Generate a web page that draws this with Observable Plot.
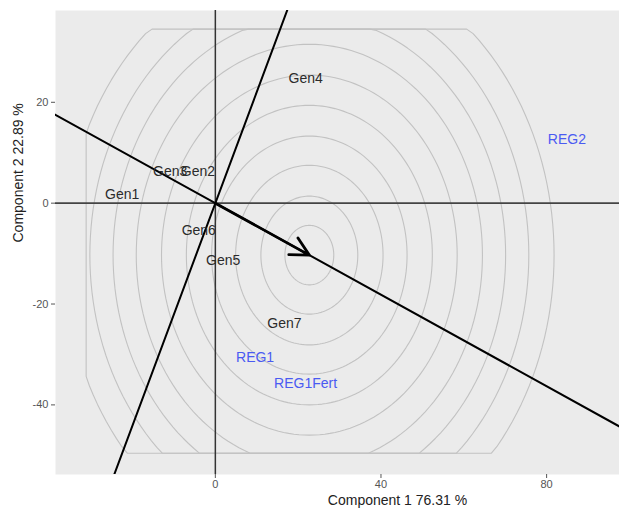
<!DOCTYPE html>
<html>
<head>
<meta charset="utf-8">
<script src="https://cdn.jsdelivr.net/npm/d3@7"></script>
<script src="https://cdn.jsdelivr.net/npm/@observablehq/plot@0.6"></script>
<style>
  body { margin: 0; background: white; }
</style>
</head>
<body>
<div id="chart"></div>
<script>
// Genotype labels
const genNames = ["Gen1", "Gen2", "Gen3", "Gen4", "Gen5", "Gen6", "Gen7"];
const genX = [-22.5, -4.2, -10.9, 21.8, 1.9, -4.0, 16.7];
const genY = [1.7, 6.3, 6.3, 24.7, -11.4, -5.4, -23.8];

// Environment labels
const envNames = ["REG1", "REG1Fert", "REG2"];
const envX = [9.6, 21.8, 84.9];
const envY = [-30.6, -35.7, 12.6];

// Average environment (arrow end, circle centre)
const avgEnv = [22.7, -10.3];

// Concentric circle radii
const radii = [5.9, 11.7, 17.8, 23.6, 29.7, 35.7, 41.8, 47.4, 53.0, 59.1];
// Clamp limits of circles [xmin, xmax, ymin, ymax]
const clipBox = [-31.2, 200, -49.6, 34.5];

// Axis settings
const xDomain = [-38.6, 97.6];
const yDomain = [-53.8, 38.2];
const xTicks = [0, 40, 80];
const yTicks = [-40, -20, 0, 20];
const xTitle = "Component 1 76.31 %";
const yTitle = "Component 2 22.89 %";

const gens = genNames.map((n, i) => ({name: n, x: genX[i], y: genY[i]}));
const envs = envNames.map((n, i) => ({name: n, x: envX[i], y: envY[i]}));

const [cx, cy] = avgEnv;
const circlePts = [];
radii.forEach((r, k) => {
  for (let a = 0; a <= 360; a += 2) {
    const t = a * Math.PI / 180;
    let px = cx + r * Math.cos(t), py = cy + r * Math.sin(t);
    px = Math.min(Math.max(px, clipBox[0]), clipBox[1]);
    py = Math.min(Math.max(py, clipBox[2]), clipBox[3]);
    circlePts.push({k, x: px, y: py});
  }
});

const len = Math.hypot(cx, cy);
const ux = cx / len, uy = cy / len;
const aeaLine = [-300, 300].map(t => ({x: t * ux, y: t * uy}));
const perpLine = [-300, 300].map(t => ({x: -t * uy, y: t * ux}));

const chart = Plot.plot({
  width: 619,
  height: 508,
  marginLeft: 55,
  marginRight: 0,
  marginTop: 10,
  marginBottom: 34,
  x: {domain: xDomain},
  y: {domain: yDomain},
  style: {fontFamily: "'Liberation Sans', Arial, Helvetica, sans-serif", background: "white"},
  marks: [
    Plot.frame({fill: "#ebebeb"}),
    Plot.line(circlePts, {x: "x", y: "y", z: "k", stroke: "#c2c2c2", strokeWidth: 1.1, clip: true}),
    Plot.ruleX([0], {stroke: "#333", strokeWidth: 1.5}),
    Plot.ruleY([0], {stroke: "#444", strokeWidth: 1.6}),
    Plot.line(aeaLine, {x: "x", y: "y", stroke: "#000", strokeWidth: 2, clip: true}),
    Plot.line(perpLine, {x: "x", y: "y", stroke: "#000", strokeWidth: 2, clip: true}),
    Plot.arrow([{x1: 0, y1: 0, x2: cx, y2: cy}], {x1: "x1", y1: "y1", x2: "x2", y2: "y2", stroke: "#000", strokeWidth: 2.8, headLength: 11, headAngle: 55}),
    Plot.text(gens, {x: "x", y: "y", text: "name", fill: "#2b2b2b", fontSize: 14}),
    Plot.text(envs, {x: "x", y: "y", text: "name", fill: "#4a5af2", fontSize: 14}),
    Plot.axisX({ticks: xTicks, tickSize: 4, tickPadding: 2, fontSize: 11, color: "#555", label: null, tickFormat: d => String(d)}),
    Plot.axisY({ticks: yTicks, tickSize: 4, tickPadding: 3, fontSize: 11, color: "#555", label: null, tickFormat: d => String(d)}),
    Plot.text([xTitle], {frameAnchor: "bottom", dx: 60, dy: 26, lineAnchor: "middle", fontSize: 14, fill: "#222"}),
    Plot.text([yTitle], {frameAnchor: "left", rotate: -90, dx: -37, lineAnchor: "middle", fontSize: 14, fill: "#222"})
  ]
});
document.getElementById("chart").append(chart);
</script>
</body>
</html>
